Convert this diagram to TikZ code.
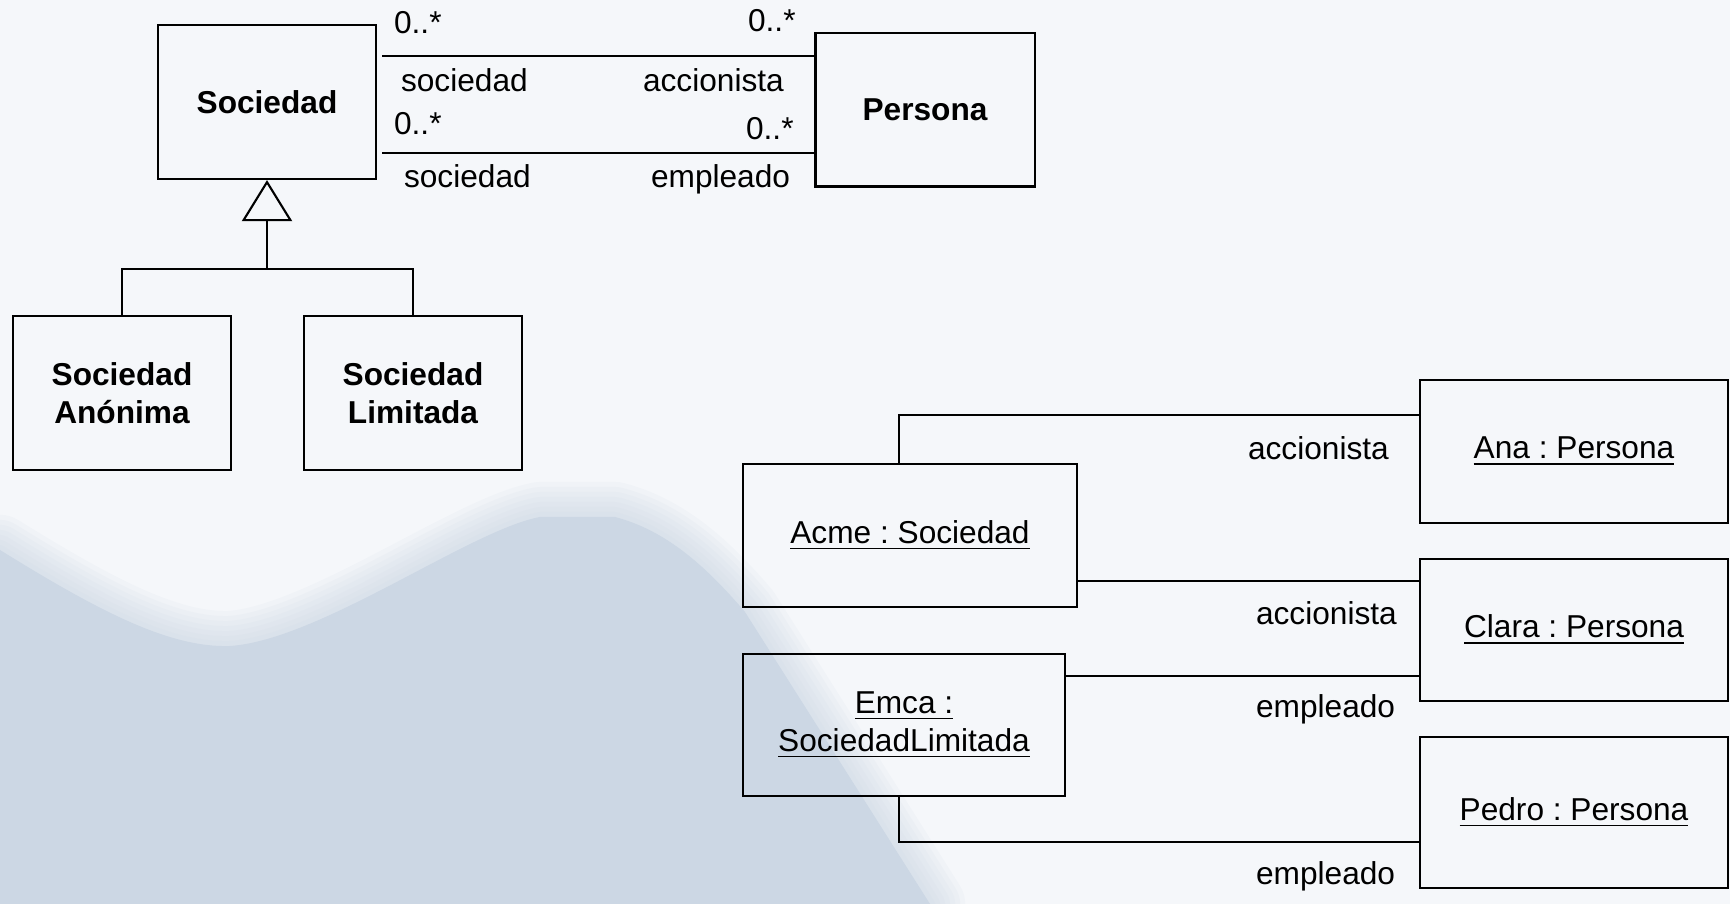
\documentclass[tikz,border=0pt]{standalone}
\usepackage{fontspec}
\setmainfont{Liberation Sans}
\usetikzlibrary{arrows.meta}
\definecolor{fondo}{HTML}{F5F7FA}
\definecolor{fondoazul}{HTML}{CCD7E4}
\frenchspacing

\begin{document}
\begin{tikzpicture}[x=0.01cm, y=-0.01cm, line width=0.6pt,
		font=\fontsize{9}{10.8}\selectfont,
		clase/.style={draw, align=center, font=\fontsize{9}{10.8}\selectfont\bfseries,
			minimum width=2.18cm, minimum height=1.54cm},
		objeto/.style={draw, align=center, minimum width=3.08cm, minimum height=1.43cm},
		rol/.style={inner sep=0pt, anchor=base west},
		mancha/.style={insert path={(0,550) .. controls (100,612) and (170,648) .. (230,646)
	            .. controls (320,640) and (470,530) .. (540,517) -- (615,517)
	            .. controls (665,530) and (705,565) .. (745,612) -- (930,904) -- (0,904) -- cycle}}]
	      \useasboundingbox (0,0) rectangle (1730,904);
	      % fondo
	      \begin{scope}
	            \clip (0,0) rectangle (1730,904);
	            \fill[fondo] (0,0) rectangle (1730,904);
	            \foreach \w in {7,6,5,4,3,2,1}
	                  \draw[fondoazul, line width=\w mm, opacity=0.12, line join=round, mancha];
	            \fill[fondoazul, mancha];
	      \end{scope}

	      % clases
	      \node[clase] (soc) at (267,102) {Sociedad};
	      \node[clase, minimum width=2.19cm, minimum height=1.53cm] (pers) at (925,110) {Persona};
	      \node[clase] (sa) at (122,393) {Sociedad\\Anónima};
	      \node[clase] (sl) at (413,393) {Sociedad\\Limitada};

	      \draw ([shift={(5,32)}]soc.north east) coordinate (as1) -- (as1 -| pers.west);
	      \draw ([shift={(5,129)}]soc.north east) coordinate (as2) -- (as2 -| pers.west);

	      \coordinate (rama) at ([shift={(0,89)}]soc.south);
	      \draw (sa.north) |- (rama) -| (sl.north);
	      \draw[-{Triangle[open, length=4.1mm, width=5mm]}] (rama) -- (soc.south);

	      \node[rol] (m1) at (393,34) {0..*};
	      \node[rol] (m2) at (747,32) {0..*};
	      \node[rol] (r1) at (400,92) {sociedad};
	      \node[rol] (r2) at (642,92) {accionista};
	      \node[rol] (m3) at (393,135) {0..*};
	      \node[rol] (m4) at (745,140) {0..*};
	      \node[rol] (r3) at (403,188) {sociedad};
	      \node[rol] (r4) at (650,188) {empleado};

	      % objetos
	      \node[objeto] (ana) at (1574,451.5) {\underline{Ana : Persona}};
	      \node[objeto, minimum width=3.34cm] (acme) at (910,535.5) {\underline{Acme : Sociedad}};
	      \node[objeto, minimum height=1.42cm] (clara) at (1574,630) {\underline{Clara : Persona}};
	      \node[objeto, minimum width=3.22cm, minimum height=1.42cm] (emca) at (904,725) {\underline{Emca :}\\\underline{SociedadLimitada}};
	      \node[objeto, minimum height=1.51cm] (pedro) at (1574,812.5) {\underline{Pedro : Persona}};

	      \draw ([shift={(-11,0)}]acme.north) |- ([shift={(0,36)}]ana.north west);
	      \draw ([shift={(0,118)}]acme.north east) coordinate (en2) -- (en2 -| clara.west);
	      \draw ([shift={(0,23)}]emca.north east) coordinate (en3) -- (en3 -| clara.west);
	      \draw ([shift={(-5,0)}]emca.south) |- ([shift={(0,106)}]pedro.north west);

	      \node[rol] (r5) at (1247,460) {accionista};
	      \node[rol] (r6) at (1255,625) {accionista};
	      \node[rol] (r7) at (1255,718) {empleado};
	      \node[rol] (r8) at (1255,885) {empleado};
\end{tikzpicture}
\end{document}
